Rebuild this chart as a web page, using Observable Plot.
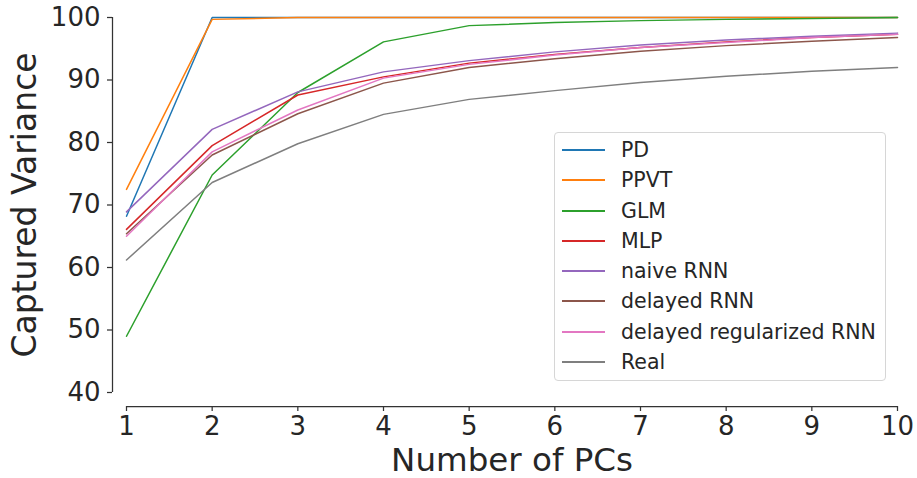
<!DOCTYPE html>
<html>
<head>
<meta charset="utf-8">
<script src="https://cdn.jsdelivr.net/npm/d3@7"></script>
<script src="https://cdn.jsdelivr.net/npm/@observablehq/plot@0.6"></script>
<style>
  html, body { margin: 0; padding: 0; background: #fff; }
  #wrap { position: relative; width: 917px; height: 478px; font-family: "DejaVu Sans", sans-serif; }
  #legend { position: absolute; left: 554px; top: 132px; width: 332px; height: 249px;
    border: 1px solid #d6d6d6; border-radius: 4px; background: rgba(255,255,255,0.8); box-sizing: border-box; }
  .item { position: absolute; left: 0; width: 100%; height: 0; }
  .sw { position: absolute; left: 7px; top: -1px; width: 43px; height: 2px; }
  .lab { position: absolute; left: 66px; font-size: 20.5px; color: #262626; white-space: nowrap; line-height: 30px; top: -15px; }
</style>
</head>
<body>
<div id="wrap"></div>
<script>
const pcs = [1, 2, 3, 4, 5, 6, 7, 8, 9, 10];
const seriesNames = ["PD", "PPVT", "GLM", "MLP", "naive RNN", "delayed RNN", "delayed regularized RNN", "Real"];
const seriesColors = ["#1f77b4", "#ff7f0e", "#2ca02c", "#d62728", "#9467bd", "#8c564b", "#e377c2", "#7f7f7f"];
const PD = [68.2, 100, 100, 100, 100, 100, 100, 100, 100, 100];
const PPVT = [72.5, 99.7, 100, 100, 100, 100, 100, 100, 100, 100];
const GLM = [49.0, 74.8, 88.0, 96.1, 98.7, 99.2, 99.5, 99.7, 99.85, 100];
const MLP = [66.1, 79.5, 87.6, 90.5, 92.7, 94.1, 95.2, 96.1, 96.8, 97.3];
const naiveRNN = [68.9, 82.1, 88.1, 91.3, 93.1, 94.5, 95.6, 96.4, 97.0, 97.5];
const delayedRNN = [65.4, 78.0, 84.6, 89.5, 92.0, 93.4, 94.6, 95.5, 96.2, 96.8];
const delayedRegRNN = [65.0, 78.5, 85.2, 90.3, 92.5, 94.0, 95.2, 96.0, 96.8, 97.3];
const Real = [61.2, 73.6, 79.8, 84.5, 86.9, 88.3, 89.6, 90.6, 91.4, 92.0];
const yTicks = [40, 50, 60, 70, 80, 90, 100];
const xTicks = [1, 2, 3, 4, 5, 6, 7, 8, 9, 10];

const seriesValues = [PD, PPVT, GLM, MLP, naiveRNN, delayedRNN, delayedRegRNN, Real];
const table = [];
seriesNames.forEach((name, i) => {
  pcs.forEach((x, j) => table.push({series: name, x, y: seriesValues[i][j]}));
});

const axisColor = "#333";
const textColor = "#262626";

const chart = Plot.plot({
  width: 917,
  height: 478,
  marginLeft: 126,
  marginRight: 20,
  marginTop: 17,
  marginBottom: 86,
  style: {fontFamily: "DejaVu Sans", background: "transparent", color: textColor, overflow: "visible"},
  x: {domain: [1, 10]},
  y: {domain: [40, 100]},
  color: {domain: seriesNames, range: seriesColors},
  marks: [
    Plot.ruleX([1], {y1: 40, y2: 100, dx: -14, stroke: axisColor, strokeWidth: 1.25}),
    Plot.ruleY([40], {x1: 1, x2: 10, dy: 14, stroke: axisColor, strokeWidth: 1.25}),
    Plot.axisY({ticks: yTicks, tickSize: 5, tickPadding: 7, dx: -14, fontSize: 26, stroke: axisColor, strokeWidth: 1.25, label: null, tickFormat: d => String(d), fill: textColor}),
    Plot.axisX({ticks: xTicks, tickSize: 5, tickPadding: 5, dy: 14, fontSize: 26, stroke: axisColor, strokeWidth: 1.25, label: null, tickFormat: d => String(d), fill: textColor}),
    Plot.line(table, {x: "x", y: "y", z: "series", stroke: "series", strokeWidth: 1.5}),
    Plot.text(["Number of PCs"], {frameAnchor: "bottom", textAnchor: "middle", lineAnchor: "bottom", dy: 78, fontSize: 32.5, fill: textColor}),
    Plot.text(["Captured Variance"], {frameAnchor: "left", textAnchor: "middle", lineAnchor: "bottom", rotate: -90, dx: -90.5, fontSize: 33, fill: textColor})
  ]
});

const wrap = document.getElementById("wrap");
wrap.appendChild(chart);

const legend = document.createElement("div");
legend.id = "legend";
seriesNames.forEach((name, i) => {
  const item = document.createElement("div");
  item.className = "item";
  item.style.top = (17 + i * 30.25) + "px";
  const sw = document.createElement("div");
  sw.className = "sw";
  sw.style.background = seriesColors[i];
  const lab = document.createElement("div");
  lab.className = "lab";
  lab.textContent = name;
  item.appendChild(sw);
  item.appendChild(lab);
  legend.appendChild(item);
});
wrap.appendChild(legend);
</script>
</body>
</html>
